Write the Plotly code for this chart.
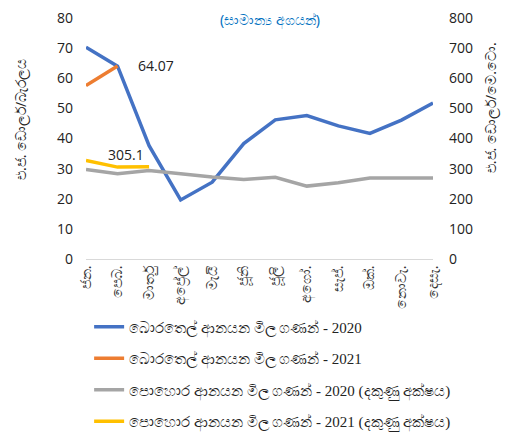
import plotly.graph_objects as go

months = ["ජන.", "පෙබ.", "මාර්තු", "අප්‍රේල්", "මැයි", "ජූනි", "ජූලි",
          "අගෝ.", "සැප්.", "ඔක්.", "නොවැ.", "දෙසැ."]
crude_2020 = [70.3, 64.0, 37.6, 19.6, 25.5, 38.3, 46.2, 47.6, 44.2, 41.7, 46.1, 51.8]
crude_2021 = [57.6, 64.07]
fert_2020 = [297, 283, 294, 283, 272, 264, 271, 242, 253, 269, 269, 269]
fert_2021 = [327, 305.1, 306]

names = ["බොරතෙල් ආනයන මිල ගණන් - 2020",
         "බොරතෙල් ආනයන මිල ගණන් - 2021",
         "පොහොර ආනයන මිල ගණන් - 2020 (දකුණු අක්ෂය)",
         "පොහොර ආනයන මිල ගණන් - 2021 (දකුණු අක්ෂය)"]
colors = ["#4472C4", "#ED7D31", "#A5A5A5", "#FFC000"]

fig = go.Figure()
fig.add_trace(go.Scatter(x=months, y=crude_2020, mode="lines", name=names[0],
                         line=dict(color=colors[0], width=3.5), legendgroup="a"))
fig.add_trace(go.Scatter(x=months[:len(crude_2021)], y=crude_2021, mode="lines", name=names[1],
                         line=dict(color=colors[1], width=3.5), legendgroup="b"))
fig.add_trace(go.Scatter(x=months, y=fert_2020, mode="lines", name=names[2], yaxis="y2",
                         line=dict(color=colors[2], width=3.5), legendgroup="c"))
fig.add_trace(go.Scatter(x=months[:len(fert_2021)], y=fert_2021, mode="lines", name=names[3], yaxis="y2",
                         line=dict(color=colors[3], width=3.5), legendgroup="d"))

num_font = dict(family="Open Sans, sans-serif", size=14, color="#222222")
title_font = dict(family="Noto Sans, sans-serif", size=14, color="#222222")

fig.add_annotation(x=months[1], y=crude_2021[1], text=f"{crude_2021[1]:.2f}", showarrow=False,
                   xshift=38, font=num_font)
fig.add_annotation(x=months[1], y=fert_2021[1], yref="y2", text=f"{fert_2021[1]}", showarrow=False,
                   xshift=8, yshift=13, font=num_font)
fig.add_annotation(x=0.53, xref="paper", y=1.0415, yref="paper", yanchor="top",
                   text="(සාමාන්‍ය අගයන්)", showarrow=False,
                   font=dict(family="Noto Sans, sans-serif", size=14, color="#0070C0"))
# axis titles
fig.add_annotation(x=-0.187, xref="paper", y=0.577, yref="paper", textangle=-90,
                   xanchor="center", yanchor="middle",
                   text="එ.ජ. ඩොලර්/බැරලය", showarrow=False, font=title_font)
fig.add_annotation(x=1.168, xref="paper", y=0.627, yref="paper", textangle=-90,
                   xanchor="center", yanchor="middle",
                   text="එ.ජ. ඩොලර්/මෙ.ටො.", showarrow=False, font=title_font)

fig.update_layout(
    width=501, height=424,
    margin=dict(l=78, r=76, t=10, b=173, autoexpand=False),
    paper_bgcolor="white", plot_bgcolor="white",
    showlegend=True,
    legend=dict(orientation="v", x=0.009, xanchor="left", y=-0.2135, yanchor="top",
                font=dict(family="Liberation Serif, serif", size=15, color="#222222"),
                tracegroupgap=9, itemwidth=30),
    xaxis=dict(type="category", tickangle=-90, showline=True, linecolor="#D9D9D9", linewidth=1,
               ticks="", showgrid=False,
               tickfont=dict(family="Noto Sans, sans-serif", size=14, color="#333333")),
    yaxis=dict(range=[0, 80], dtick=10, showgrid=False, zeroline=False, showline=False,
               ticklabelstandoff=12, ticklabeloverflow="allow",
               tickfont=dict(family="Open Sans, sans-serif", size=14, color="#222222")),
    yaxis2=dict(range=[0, 800], dtick=100, overlaying="y", side="right", showgrid=False,
                zeroline=False, showline=False, ticklabelstandoff=15, ticklabeloverflow="allow",
                tickfont=dict(family="Open Sans, sans-serif", size=14, color="#222222")),
)

fig.write_html("out.html")
